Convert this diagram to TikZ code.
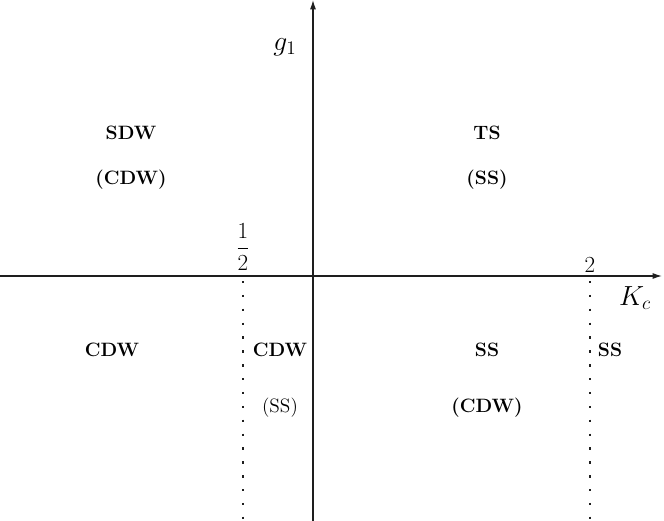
\documentclass[tikz,border=0pt]{standalone}
\usepackage{amsmath,amssymb}
\usetikzlibrary{arrows.meta,positioning,calc}
\definecolor{axisGray}{RGB}{30, 30, 30}

\tikzset{
  every node/.style={font=\fontsize{14.5}{17}\selectfont},
  phase/.style={font=\fontsize{14.5}{17}\selectfont\bfseries, inner sep=1pt},
  axislabel/.style={font=\fontsize{21}{24}\selectfont},
  axisline/.style={axisGray, line width=0.9pt, -{Latex[length=7pt,width=4.5pt]}},
  boundary/.style={axisGray, line width=1.8pt, dash pattern=on 1.8pt off 8.6pt}
}

\begin{document}
\begin{tikzpicture}[x=0.75pt, y=0.75pt, line cap=butt, line join=round]
        \useasboundingbox (-313,-245) rectangle (351,276);
        % axes
        \coordinate (west) at (-313,0);
        \coordinate (east) at (349,0);
        \coordinate (south) at (0,-245);
        \coordinate (north) at (0,276);
        \draw[axisline] (west) -- (east);
        \draw[axisline] (south) -- (north);
        \node[axislabel] (gone) at (-28,229) {$g_1$};
        \node[axislabel] (kc) at (322,-22) {$K_c$};
        % phase boundaries
        \coordinate (halftop) at (-70,-5);
        \coordinate (halfbot) at (-70,-245);
        \coordinate (twotop) at (277,-5);
        \coordinate (twobot) at (277,-245);
        \draw[boundary] (halftop) -- (halfbot);
        \draw[boundary] (twotop) -- (twobot);
        \node[font=\fontsize{17}{20}\selectfont] (half) at (-70,29) {$\dfrac{1}{2}$};
        \node[font=\fontsize{17}{20}\selectfont] (two) at (277,11) {$2$};
        % upper half
        \node[phase] (sdw) at (-182,143) {SDW};
        \node[phase] (sdwsub) at (-182,96) {(CDW)};
        \node[phase] (ts) at (174,143) {TS};
        \node[phase] (tssub) at (174,96) {(SS)};
        % lower half
        \node[phase] (cdwleft) at (-201,-74) {CDW};
        \node[phase] (cdwmid) at (-33,-74) {CDW};
        \node (cdwmidsub) at (-33,-132) {(SS)};
        \node[phase] (ss) at (174,-74) {SS};
        \node[phase] (sssub) at (174,-132) {(CDW)};
        \node[phase] (ssright) at (297,-74) {SS};
    \end{tikzpicture}
\end{document}
